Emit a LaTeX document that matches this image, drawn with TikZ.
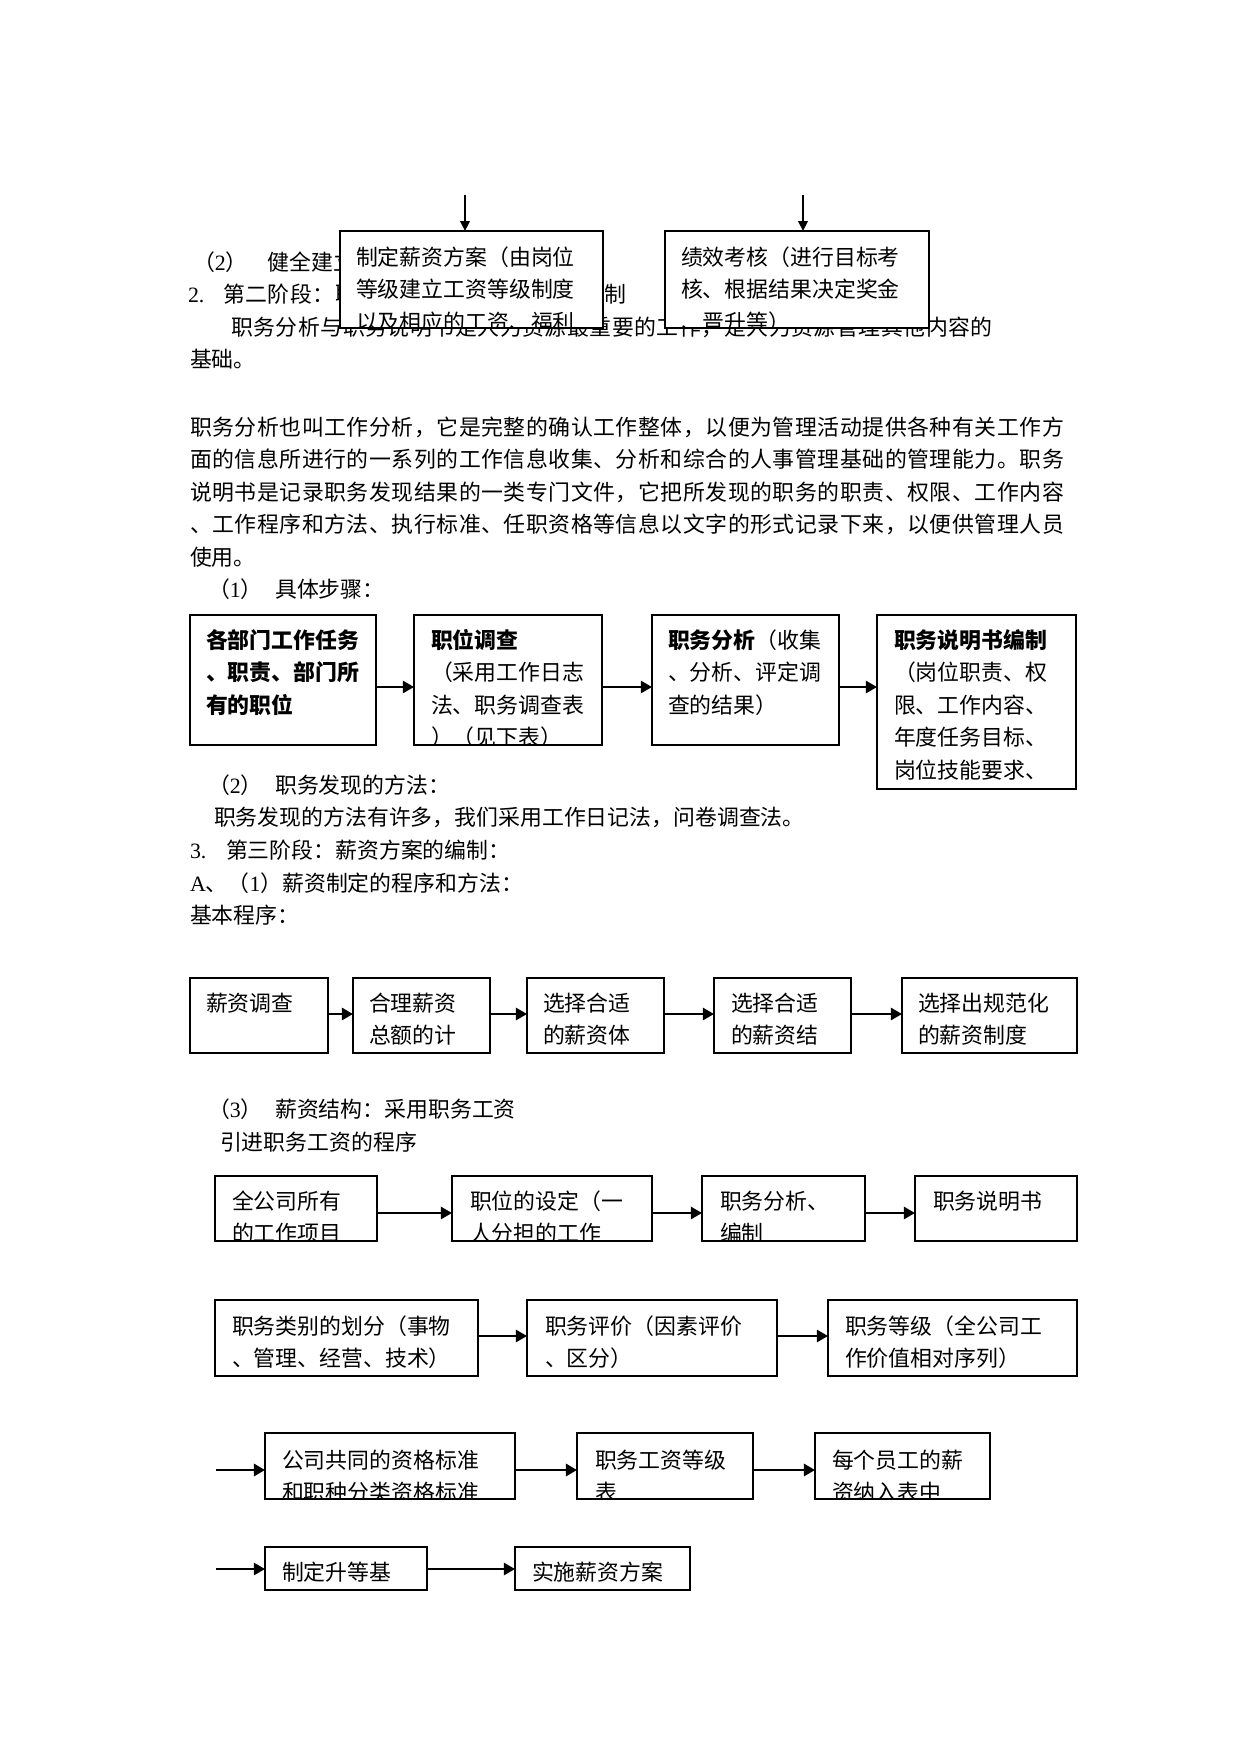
\documentclass[tikz,border=0pt]{standalone}
\usepackage{fontspec}
\setmainfont{Noto Sans CJK SC}
\newfontfamily\lat{Liberation Serif}
\usetikzlibrary{arrows.meta,fit}
\tikzset{
  txt/.style={anchor=base west, inner sep=0pt, outer sep=0pt, font=\fontsize{10.5pt}{15pt}\selectfont},
  jtxt/.style={txt, font=\fontsize{10.5pt}{15pt}\selectfont\addfontfeatures{LetterSpace=2.5}},
  fbox/.style={draw, fill=white, line width=0.96pt, inner sep=0pt, outer sep=0pt},
  thickbox/.style={fbox, line width=1.2pt},
  arr/.style={-{Triangle[length=5.3pt,width=5.8pt]}, line width=1.1pt},
  thinarr/.style={-{Triangle[length=4.8pt,width=4.6pt]}, line width=0.9pt},
  thickarr/.style={arr, line width=1.4pt},
}
% #1 name, #2 style, #3 x1, #4 y1, #5 x2, #6 y2, #7 text x, #8 first line centre y, #9 lines
\newcommand\mkbox[9]{%
  \node[#2, fit={(#3,#4) (#5,#6)}] (#1) {};
  \begin{scope}
    \clip ([shift={(1.5,1.5)}]#1.north west) rectangle ([shift={(-1.5,-1.5)}]#1.south east);
    \foreach \t [count=\i from 0] in {#9}
      \node[txt] (#1-l\i) at (#7, {#8+8+32.5*\i}) {\t};
  \end{scope}
}
\begin{document}
\begin{tikzpicture}[x=0.48pt, y=-0.48pt]
\fill[white] (0,0) rectangle (1241,1754);
\useasboundingbox (0,0) rectangle (1241,1754);

% ---------- running text ----------
\begin{scope}
  \clip (0,240) rectangle (340,312);
  \node[txt] (p1) at (193,270) {（{\lat 2}）\hspace{9.6pt}健全建立};
  \node[jtxt] (p2b) at (223,302.5) {第二阶段：职};
\end{scope}
\node[txt] (p2a) at (188,302.5) {{\lat 2.}};
\node[txt] (p2c) at (604,302.5) {制};
\node[jtxt] (p3) at (231,335) {职务分析与职务说明书是人力资源最重要的工作，是人力资源管理其他内容的};
\node[txt] (p4) at (190,367.5) {基础。};
\node[jtxt] (p5) at (190,435) {职务分析也叫工作分析，它是完整的确认工作整体，以便为管理活动提供各种有关工作方};
\node[jtxt] (p6) at (190,467.5) {面的信息所进行的一系列的工作信息收集、分析和综合的人事管理基础的管理能力。职务};
\node[jtxt] (p7) at (190,500) {说明书是记录职务发现结果的一类专门文件，它把所发现的职务的职责、权限、工作内容};
\node[jtxt] (p8) at (190,532.5) {、工作程序和方法、执行标准、任职资格等信息以文字的形式记录下来，以便供管理人员};
\node[txt] (p9) at (190,565) {使用。};
\node[txt] (p10) at (208,597) {（{\lat 1}）\hspace{6pt}具体步骤：};
\node[txt] (p11) at (208,793) {（{\lat 2}）\hspace{6pt}职务发现的方法：};
\node[txt] (p12) at (214,825) {职务发现的方法有许多，我们采用工作日记法，问卷调查法。};
\node[txt] (p13a) at (190,858) {{\lat 3.}};
\node[txt] (p13b) at (226,858) {第三阶段：薪资方案的编制：};
\node[txt] (p14) at (190,891) {{\lat A}、（{\lat 1}）薪资制定的程序和方法：};
\node[txt] (p15) at (190,923) {基本程序：};
\node[txt] (p16) at (208,1117) {（{\lat 3}）\hspace{6pt}薪资结构：采用职务工资};
\node[txt] (p17) at (220,1150) {引进职务工资的程序};

% ---------- top boxes ----------
\mkbox{bA}{fbox}{340}{231}{603}{328}{356}{257}{制定薪资方案（由岗位,等级建立工资等级制度,以及相应的工资、福利}
\mkbox{bB}{fbox}{665}{231}{929}{328}{681}{257}{绩效考核（进行目标考,核、根据结果决定奖金,、晋升等）}
\coordinate (tA) at (465,195);
\coordinate (tB) at (803,195);
\draw[thinarr] (tA) -- (tA |- bA.north);
\draw[thinarr] (tB) -- (tB |- bB.north);

% ---------- row 1 ----------
\mkbox{r1a}{thickbox}{190}{615}{376}{745}{206}{640}{\textbf{各部门工作任务},\textbf{、职责、部门所},\textbf{有的职位}}
\mkbox{r1b}{thickbox}{414}{615}{602}{745}{431}{640}{\textbf{职位调查},（采用工作日志,法、职务调查表,）（见下表）}
\mkbox{r1c}{thickbox}{652}{615}{839}{745}{668}{640}{\textbf{职务分析}（收集,、分析、评定调,查的结果）}
\mkbox{r1d}{thickbox}{877}{615}{1076}{789}{894}{640}{\textbf{职务说明书编制},（岗位职责、权,限、工作内容、,年度任务目标、,岗位技能要求、}
\coordinate (y1) at (0,687);
\draw[arr] (r1a.east |- y1) -- (r1b.west |- y1);
\draw[arr] (r1b.east |- y1) -- (r1c.west |- y1);
\draw[arr] (r1c.east |- y1) -- (r1d.west |- y1);

% ---------- row 2 ----------
\mkbox{r2a}{fbox}{190}{978}{328}{1053}{206}{1003}{薪资调查}
\mkbox{r2b}{fbox}{353}{978}{490}{1053}{369}{1003}{合理薪资,总额的计}
\mkbox{r2c}{fbox}{527}{978}{664}{1053}{543}{1003}{选择合适,的薪资体}
\mkbox{r2d}{fbox}{714}{978}{851}{1053}{731}{1003}{选择合适,的薪资结}
\mkbox{r2e}{fbox}{902}{978}{1077}{1053}{918}{1003}{选择出规范化,的薪资制度}
\coordinate (y2) at (0,1014);
\draw[arr] (r2a.east |- y2) -- (r2b.west |- y2);
\draw[arr] (r2b.east |- y2) -- (r2c.west |- y2);
\draw[arr] (r2c.east |- y2) -- (r2d.west |- y2);
\draw[arr] (r2d.east |- y2) -- (r2e.west |- y2);

% ---------- row 3 ----------
\mkbox{r3a}{fbox}{215}{1176}{377}{1241}{232}{1201}{全公司所有,的工作项目}
\mkbox{r3b}{fbox}{452}{1176}{652}{1241}{470}{1201}{职位的设定（一,人分担的工作}
\mkbox{r3c}{fbox}{702}{1176}{865}{1241}{720}{1201}{职务分析、,编制}
\mkbox{r3d}{fbox}{915}{1176}{1077}{1241}{933}{1201}{职务说明书}
\coordinate (y3) at (0,1213);
\draw[arr] (r3a.east |- y3) -- (r3b.west |- y3);
\draw[arr] (r3b.east |- y3) -- (r3c.west |- y3);
\draw[arr] (r3c.east |- y3) -- (r3d.west |- y3);

% ---------- row 4 ----------
\mkbox{r4a}{fbox}{215}{1300}{478}{1376}{232}{1326}{职务类别的划分（事物,、管理、经营、技术）}
\mkbox{r4b}{fbox}{527}{1300}{777}{1376}{545}{1326}{职务评价（因素评价,、区分）}
\mkbox{r4c}{fbox}{828}{1300}{1077}{1376}{845}{1326}{职务等级（全公司工,作价值相对序列）}
\coordinate (y4) at (0,1336);
\draw[arr] (r4a.east |- y4) -- (r4b.west |- y4);
\draw[arr] (r4b.east |- y4) -- (r4c.west |- y4);

% ---------- row 5 ----------
\mkbox{r5a}{fbox}{265}{1433}{515}{1499}{282}{1460}{公司共同的资格标准,和职种分类资格标准}
\mkbox{r5b}{fbox}{577}{1433}{753}{1499}{595}{1460}{职务工资等级,表}
\mkbox{r5c}{fbox}{815}{1433}{990}{1499}{832}{1460}{每个员工的薪,资纳入表中}
\coordinate (s5) at (216,1470);
\draw[thickarr] (s5) -- (r5a.west |- s5);
\draw[thickarr] (r5a.east |- s5) -- (r5b.west |- s5);
\draw[thickarr] (r5b.east |- s5) -- (r5c.west |- s5);

% ---------- row 6 ----------
\mkbox{r6a}{fbox}{265}{1547}{427}{1590}{282}{1572}{制定升等基}
\mkbox{r6b}{fbox}{515}{1547}{690}{1590}{532}{1572}{实施薪资方案}
\coordinate (s6) at (216,1569);
\draw[arr] (s6) -- (r6a.west |- s6);
\draw[arr] (r6a.east |- s6) -- (r6b.west |- s6);
\end{tikzpicture}
\end{document}
